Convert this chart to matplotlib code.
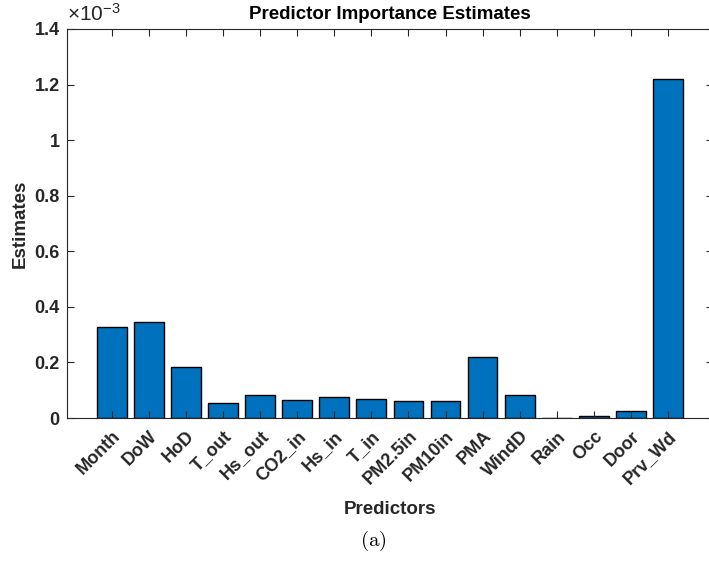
import matplotlib
matplotlib.use("Agg")
import matplotlib.pyplot as plt
import numpy as np

# predictor names and importance (x 1e-3)
predictors = ["Month", "DoW", "HoD", "T_out", "Hs_out", "CO2_in", "Hs_in", "T_in",
              "PM2.5in", "PM10in", "PMA", "WindD", "Rain", "Occ", "Door", "Prv_Wd"]
estimates = [0.326, 0.344, 0.183, 0.054, 0.082, 0.064, 0.077, 0.068,
             0.060, 0.060, 0.219, 0.082, 0.0, 0.006, 0.024, 1.22]
yticks = [0, 0.2, 0.4, 0.6, 0.8, 1, 1.2, 1.4]
ytick_labels = ["0", "0.2", "0.4", "0.6", "0.8", "1", "1.2", "1.4"]

plt.rcParams["font.family"] = ["Liberation Sans", "DejaVu Sans"]
plt.rcParams["font.weight"] = "bold"
plt.rcParams["mathtext.fontset"] = "cm"

fig = plt.figure(figsize=(7.09, 5.63), dpi=100)
ax = fig.add_axes([0.0941, 0.2575, 0.9116, 0.691])

x = np.arange(1, len(predictors) + 1)
ax.bar(x, estimates, width=0.8, color="#0072BD", edgecolor="black", linewidth=1.0)

ax.set_xlim(-0.213, 17.213)
ax.set_ylim(0, 1.4)
ax.set_xticks(x)
ax.set_xticklabels(predictors, rotation=45, ha="right", rotation_mode="anchor",
                   fontsize=13, fontweight="bold", color="#262626")
ax.set_yticks(yticks)
ax.set_yticklabels(ytick_labels, fontsize=13, fontweight="bold", color="#262626")
ax.tick_params(direction="in", length=5, width=0.8, color="#262626",
               top=True, right=True, pad=5)
ax.tick_params(axis="x", pad=7)
for s in ax.spines.values():
    s.set_color("#262626")
    s.set_linewidth(0.8)

ax.set_title("Predictor Importance Estimates", fontsize=13.5, fontweight="bold", pad=7)
ax.set_ylabel("Estimates", fontsize=13.5, fontweight="bold", color="#262626", labelpad=4)
ax.set_xlabel("Predictors", fontsize=13.5, fontweight="bold", color="#262626", labelpad=9)
ax.text(0.0, 1.012, r"$\mathregular{\times10^{-3}}$", transform=ax.transAxes,
        fontsize=15, fontweight="normal", ha="left", va="bottom", color="#262626")

fig.text(0.527, 0.039, r"$\mathrm{(a)}$", fontsize=15, ha="center", va="center")

fig.savefig("out.png", dpi=100)
